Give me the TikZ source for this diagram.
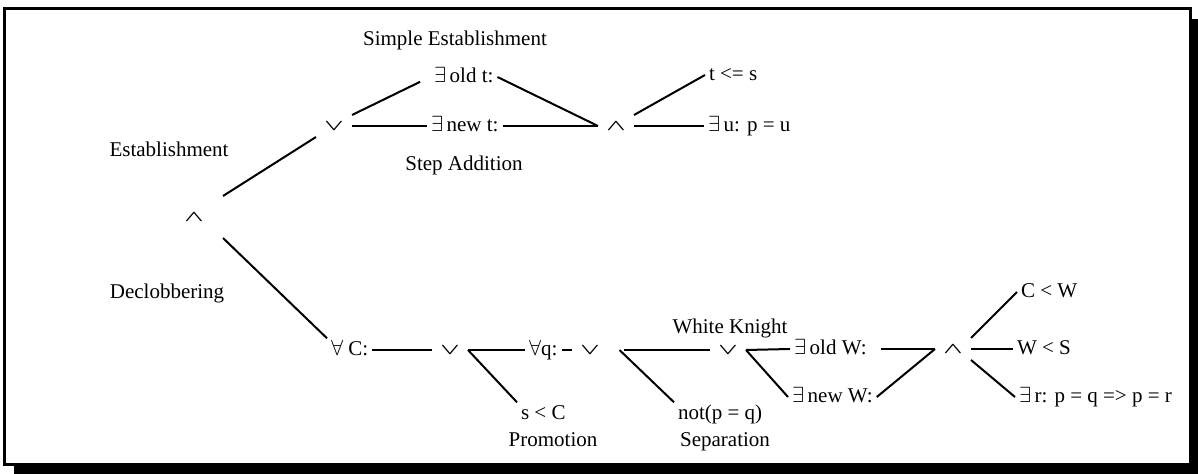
\documentclass[tikz,border=0pt]{standalone}
\usepackage{graphicx}
\usepackage{bm}
\usepackage{fontspec}
\setmainfont{Liberation Serif}

\begin{document}
\begin{tikzpicture}[x = 0.5pt, y = -0.5pt, line width = 1pt,
	font = \fontsize{10.5}{12.6}\selectfont,
	txt/.style = {inner xsep = 1.5pt, inner ysep = 1pt, text height = 1.6ex, text depth = 0.3ex},
	logic/.style = {inner sep = 0pt, minimum width = 17pt, minimum height = 10pt}]

	% Definitions

	\def\disj{\scalebox{1.15}[0.7]{$\bm{\vee}$}}	% or
	\def\conj{\scalebox{1.15}[0.7]{$\bm{\wedge}$}}	% and

	% Frame with shadow

	\useasboundingbox (0, 0) rectangle (1198, 474);
	\fill (14, 19) rectangle (1198, 474);
	\draw [fill = white, line width = 1.5pt] (4.5, 8.5) rectangle (1190.5, 464.5);

	% Logic nodes

	\node [logic, minimum width = 28pt, minimum height = 20pt] (root) at (194, 217) {\conj};
	\node [logic] (orA) at (334, 126) {\disj};
	\node [logic] (andA) at (616, 126) {\conj};
	\node [logic] (orB) at (450, 350) {\disj};
	\node [logic] (orC) at (590, 350) {\disj};
	\node [logic] (orD) at (728, 350) {\disj};
	\node [logic] (andB) at (953, 349) {\conj};

	% Conditions

	\node [txt, anchor = west] (oldt) at (430, 77) {$\exists$\,old t:};
	\node [txt, anchor = west] (newt) at (427, 126) {$\exists$\,new t:};
	\node [txt, anchor = west] (tles) at (705, 75) {t <= s};
	\node [txt, anchor = west] (exu) at (704, 126) {$\exists$\,u: p = u};
	\node [txt, anchor = west] (forallC) at (327, 350) {$\forall$ C:};
	\node [txt, anchor = west] (forallq) at (525, 350) {$\forall$q:};
	\node [txt, anchor = west] (slC) at (517, 414) {s < C};
	\node [txt, anchor = west] (notpq) at (674, 414) {not(p = q)};
	\node [txt, anchor = west] (oldW) at (790, 349) {$\exists$\,old W:};
	\node [txt, anchor = west] (newW) at (788, 397) {$\exists$\,new W:};
	\node [txt, anchor = west] (CW) at (1017, 292) {C < W};
	\node [txt, anchor = west] (WS) at (1013, 349) {W < S};
	\node [txt, anchor = west] (exr) at (1015, 397) {$\exists$\,r: p = q => p = r};

	% Labels

	\node [txt] (simpleLbl) at (455, 40) {Simple Establishment};
	\node [txt] (stepLbl) at (464, 165) {Step Addition};
	\node [txt] (estLbl) at (169, 151) {Establishment};
	\node [txt] (declobLbl) at (167, 293) {Declobbering};
	\node [txt] (knightLbl) at (730, 328) {White Knight};
	\node [txt] (promoLbl) at (553, 441) {Promotion};
	\node [txt] (sepLbl) at (725, 441) {Separation};

	% Branches

	\draw (root.north east) -- (orA.south west);
	\draw (root.south east) -- (forallC.north west);
	\draw [shorten >= 5.5pt] (orA.north east) -- (oldt.west);
	\draw (orA.east) -- (newt.west);
	\draw (oldt.east) -- (andA.west);
	\draw (newt.east) -- (andA.west);
	\draw (andA.north east) -- (tles.west);
	\draw (andA.east) -- (exu.west);
	\draw (forallC.east) -- (orB.west);
	\draw (orB.east) -- (forallq.west);
	\draw (orB.east) -- (slC.north west);
	\draw (forallq.east) -- (orC.west);
	\draw [shorten <= 8pt] (orC.east) -- (orD.west);
	\draw [shorten <= 8pt] (orC.north east) -- (notpq.north west);
	\draw (orD.east) -- (oldW.west);
	\draw (orD.east) -- (newW.west);
	\draw [shorten <= 5pt] (oldW.east) -- (andB.west);
	\draw (newW.east) -- (andB.west);
	\draw (andB.north east) -- (CW.west);
	\draw (andB.east) -- (WS.west);
	\draw (andB.south east) -- (exr.west);

\end{tikzpicture}
\end{document}
